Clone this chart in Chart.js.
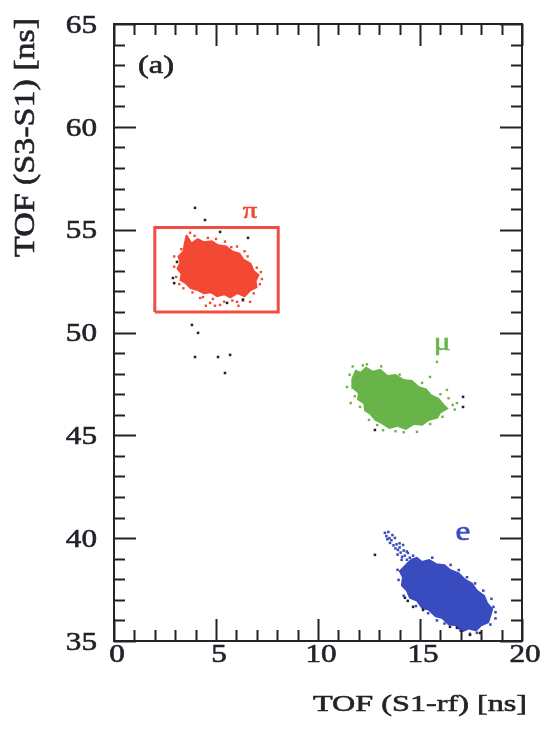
<!DOCTYPE html>
<html>
<head>
<meta charset="utf-8">
<script src="https://cdn.jsdelivr.net/npm/chart.js@4.4.1/dist/chart.umd.min.js"></script>
<style>
  html, body { margin: 0; padding: 0; background: #ffffff; }
  #wrap { width: 542px; height: 731px; position: relative; }
</style>
</head>
<body>
<div id="wrap"><canvas id="c" width="542" height="731"></canvas></div>
<script>
// ---- axis definitions ----
const xTicks = [0, 5, 10, 15, 20];
const yTicks = [35, 40, 45, 50, 55, 60, 65];
const xTitle = 'TOF (S1-rf) [ns]';
const yTitle = 'TOF (S3-S1) [ns]';
const panelLabel = '(a)';

// ---- pion (π) population: dense core outline, sparse halo, stray events ----
const piCore = [[3.55,54.75],[3.80,54.35],[4.10,54.55],[4.40,54.40],[4.80,54.45],[5.10,54.25],
  [5.50,54.20],[5.80,53.95],[6.15,53.85],[6.35,53.55],[6.70,53.35],[6.85,53.00],[7.10,52.80],
  [6.95,52.50],[7.00,52.20],[6.70,52.05],[6.40,51.75],[6.05,51.90],[5.70,51.70],[5.40,51.85],
  [5.05,51.75],[4.75,51.95],[4.40,51.90],[4.10,52.05],[3.75,52.15],[3.50,52.40],[3.25,52.55],
  [3.30,52.85],[3.10,53.10],[3.25,53.40],[3.15,53.70],[3.40,53.95],[3.45,54.30],[3.55,54.75]];
const piHalo = [[3.73,54.85],[3.95,54.70],[3.30,54.05],[5.44,54.42],[6.03,54.18],[7.20,52.94],
  [7.15,52.35],[4.36,51.72],[4.85,51.63],[5.20,51.34],[6.03,51.49],[6.32,51.55],[6.67,51.49],
  [4.71,51.44],[4.22,51.68],[2.95,53.20],[7.25,52.60],[5.00,54.55],[6.85,51.90],[3.05,52.70],
  [5.80,51.55],[4.95,51.30],[7.00,53.15],[4.60,54.60],[3.40,52.15],[6.55,53.70],[2.95,53.70],
  [5.40,51.50],[6.10,51.30],[4.50,51.30],[3.20,52.35],[3.85,51.95],[6.40,53.95],[5.75,54.15]];
const piStray = [[3.97,56.06],[4.46,55.47],[5.20,54.89],[6.57,54.60],[3.09,53.43],[2.89,52.65],
  [2.95,52.40],[5.54,51.44],[6.32,51.60],[3.82,50.37],[4.12,49.98],[3.97,48.81],[5.10,48.81],
  [5.69,48.91],[5.44,48.03]];

// ---- muon (μ) population ----
const muCore = [[11.67,47.75],[11.85,48.15],[12.10,48.05],[12.35,48.30],[12.70,48.10],[13.05,48.20],
  [13.40,47.90],[13.80,47.95],[14.20,47.70],[14.60,47.65],[14.95,47.35],[15.30,47.25],[15.55,46.95],
  [15.90,46.80],[16.15,46.50],[16.35,46.30],[16.00,46.10],[15.85,45.85],[15.45,45.75],[15.10,45.50],
  [14.70,45.55],[14.30,45.30],[13.90,45.45],[13.50,45.35],[13.10,45.60],[12.80,45.75],[12.55,46.05],
  [12.30,46.20],[12.25,46.55],[11.95,46.75],[12.00,47.05],[11.70,47.30],[11.67,47.75]];
const muHalo = [[11.42,47.35],[11.60,46.57],[15.49,47.84],[15.83,48.57],[16.32,47.21],[16.40,46.80],
  [16.60,46.48],[16.81,46.57],[14.85,45.17],[13.19,45.25],[12.06,46.38],[11.55,47.95],[12.40,48.45],
  [13.10,48.35],[16.10,45.90],[14.20,45.15],[12.90,45.50],[16.70,46.25],[11.70,48.35],[12.20,48.40],
  [14.00,47.95],[15.50,45.55],[13.80,45.20],[12.50,45.75],[11.80,46.90],[15.10,47.55],[16.00,47.00]];
const muStray = [[17.11,46.87],[17.11,46.38],[12.79,45.26]];

// ---- electron (e) population ----
const eCore = [[14.55,38.95],[14.85,39.05],[15.10,38.85],[15.45,38.95],[15.80,38.75],[16.20,38.70],
  [16.50,38.45],[16.90,38.30],[17.20,38.00],[17.55,37.80],[17.80,37.45],[18.15,37.20],[18.30,36.85],
  [18.55,36.55],[18.45,36.20],[18.35,35.90],[18.00,35.75],[17.75,35.50],[17.40,35.60],[17.05,35.45],
  [16.75,35.75],[16.40,35.80],[16.10,36.10],[15.75,36.20],[15.45,36.50],[15.10,36.60],[14.85,36.95],
  [14.50,37.10],[14.35,37.45],[14.10,37.70],[14.15,38.10],[14.00,38.40],[14.25,38.65],[14.55,38.95]];
const eHalo = [[13.28,40.26],[13.53,39.77],[13.77,40.01],[13.92,39.43],[14.17,39.67],[14.12,39.09],
  [14.41,39.28],[14.36,38.95],[14.66,39.15],[13.90,38.46],[13.95,37.97],[14.20,37.20],[18.60,36.66],
  [18.50,37.05],[17.45,35.35],[17.79,35.40],[15.83,36.00],[13.40,39.95],[13.65,40.15],[14.00,39.75],
  [18.70,36.40],[17.00,35.50],[16.20,35.85],[18.10,37.45],[15.60,39.05],[16.50,38.70],[17.30,38.10],
  [18.70,36.10],[14.80,36.70],[15.40,36.35],[13.35,40.10],[13.50,40.00],[13.60,39.90],[13.70,39.65],
  [13.85,39.70],[13.80,39.50],[14.00,39.55],[14.05,39.30],[14.20,39.40],[14.25,39.15],[14.35,39.35],
  [14.50,39.05],[13.45,40.30],[13.90,39.20],[14.10,38.95],[18.45,35.80],[16.90,38.45],[17.70,37.80]];
const eStray = [[12.79,39.19],[14.26,37.10],[14.66,36.66],[15.15,36.51],[16.47,35.69],[16.81,35.64],
  [17.45,35.30],[17.94,35.39],[14.40,36.95]];

// ---- pion selection window ----
const piCut = [[2.0,51.0],[8.05,51.0],[8.05,55.1],[2.0,55.1],[2.0,51.0]];

// ---- species labels [text, x, y] ----
const speciesLabels = [['π', 6.67, 55.57], ['μ', 16.08, 49.15], ['e', 17.11, 39.92]];

const RED = 'rgb(242,72,52)';
const GREEN = 'rgb(104,180,72)';
const BLUE = 'rgb(56,76,192)';
const INK = '#262029';
const SERIF = '"Liberation Serif", Tinos, "Nimbus Roman", Times, serif';

const toPts = a => a.map(([x, y]) => ({ x, y }));

function blob(data, color, order) {
  return {
    data: toPts(data), showLine: true, fill: 'shape', backgroundColor: color,
    borderColor: color, borderWidth: 1.5, pointRadius: 0, order
  };
}
function dots(data, color, r, order) {
  return {
    data: toPts(data), showLine: false, pointStyle: 'rect', pointRadius: r,
    backgroundColor: color, borderColor: color, borderWidth: 0, order
  };
}

// draws text horizontally stretched by sx in its own frame
function drawText(ctx, str, x, y, size, sx, align, baseline, color, rot) {
  ctx.save();
  ctx.translate(x, y);
  if (rot) ctx.rotate(rot);
  ctx.scale(sx, 1);
  ctx.font = size + 'px ' + SERIF;
  ctx.textAlign = align;
  ctx.textBaseline = baseline;
  ctx.fillStyle = color;
  ctx.strokeStyle = color;
  ctx.lineWidth = 0.6;
  ctx.fillText(str, 0, 0);
  ctx.strokeText(str, 0, 0);
  ctx.restore();
}
function fitScale(ctx, str, size, width) {
  ctx.save();
  ctx.font = size + 'px ' + SERIF;
  const w = ctx.measureText(str).width;
  ctx.restore();
  return width / w;
}

// frame, inward ticks on all four sides, tick labels, titles and annotations
const framePlugin = {
  id: 'framePlugin',
  afterDatasetsDraw(chart) {
    const { ctx, chartArea: a, scales: { x, y } } = chart;
    ctx.save();
    ctx.strokeStyle = INK;
    ctx.lineWidth = 2;
    ctx.lineCap = 'butt';
    ctx.strokeRect(a.left, a.top, a.right - a.left, a.bottom - a.top);
    const seg = (x1, y1, x2, y2) => { ctx.beginPath(); ctx.moveTo(x1, y1); ctx.lineTo(x2, y2); ctx.stroke(); };
    const MAJ = 22, MIN = 11;
    for (let v = x.min; v <= x.max; v += 1) {
      const p = Math.round(x.getPixelForValue(v)) + 0.5;
      const len = xTicks.includes(v) ? MAJ : MIN;
      seg(p, a.bottom, p, a.bottom - len);
      seg(p, a.top, p, a.top + len);
    }
    for (let v = y.min; v <= y.max; v += 1) {
      const p = Math.round(y.getPixelForValue(v)) + 0.5;
      const len = yTicks.includes(v) ? MAJ : MIN;
      seg(a.left, p, a.left + len, p);
      seg(a.right, p, a.right - len, p);
    }
    ctx.restore();

    // tick labels
    yTicks.forEach(v => drawText(ctx, String(v), a.left - 17, y.getPixelForValue(v) + 2, 26, 1.2, 'right', 'middle', INK));
    xTicks.forEach(v => drawText(ctx, String(v), x.getPixelForValue(v) + 3, a.bottom + 14, 26, 1.2, 'center', 'middle', INK));

    // axis titles
    const sxX = fitScale(ctx, xTitle, 24, 214);
    drawText(ctx, xTitle, 313, 711, 24, sxX, 'left', 'alphabetic', INK);
    const sxY = fitScale(ctx, yTitle, 29, 239);
    drawText(ctx, yTitle, 34, 257, 29, sxY, 'left', 'alphabetic', INK, -Math.PI / 2);

    // panel label
    drawText(ctx, panelLabel, a.left + 42, a.top + 49, 25, 1.3, 'center', 'alphabetic', INK);

    // species labels
    const cols = [RED, GREEN, BLUE];
    const sizes = [24, 26, 28];
    speciesLabels.forEach(([t, vx, vy], i) =>
      drawText(ctx, t, x.getPixelForValue(vx), y.getPixelForValue(vy), sizes[i], 1.2, 'center', 'alphabetic', cols[i]));
  }
};

new Chart(document.getElementById('c'), {
  type: 'scatter',
  data: {
    datasets: [
      { data: toPts(piCut), showLine: true, fill: false, borderColor: 'rgb(240,78,66)', borderWidth: 3,
        pointRadius: 0, order: 0 },
      dots(piStray, '#222028', 1.8, 1),
      dots(muStray, '#222028', 1.8, 1),
      dots(eStray, '#222028', 1.8, 1),
      dots(piHalo, RED, 1.7, 2),
      dots(muHalo, GREEN, 1.7, 2),
      dots(eHalo, BLUE, 1.8, 2),
      blob(piCore, RED, 3),
      blob(muCore, GREEN, 3),
      blob(eCore, BLUE, 3)
    ]
  },
  options: {
    responsive: false,
    animation: false,
    layout: { padding: { left: 114, right: 20, top: 24, bottom: 90 } },
    scales: {
      x: { type: 'linear', min: 0, max: 20, display: false },
      y: { type: 'linear', min: 35, max: 65, display: false }
    },
    plugins: { legend: { display: false }, tooltip: { enabled: false } }
  },
  plugins: [framePlugin]
});
</script>
</body>
</html>
